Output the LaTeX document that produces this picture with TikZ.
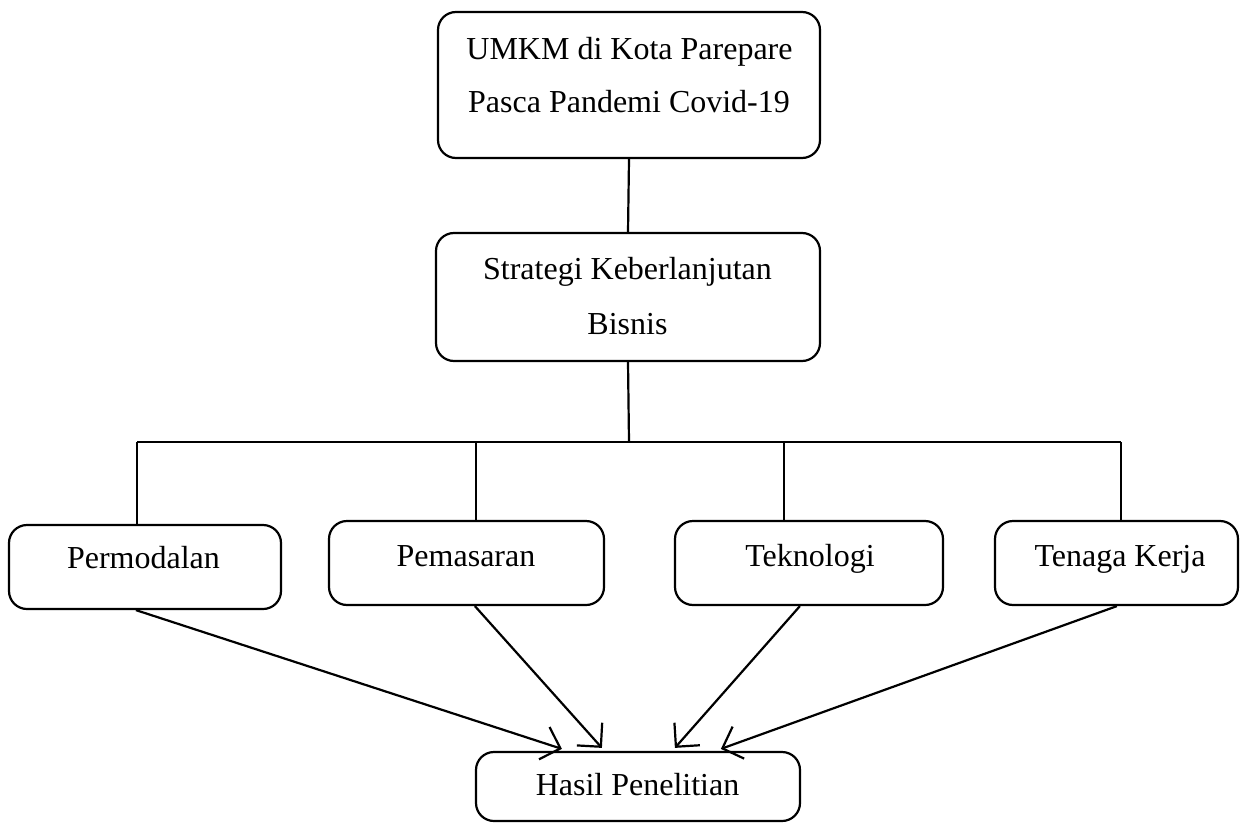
\documentclass[tikz,border=0pt]{standalone}
\usepackage{fontspec}
\setmainfont{Liberation Serif}
\usetikzlibrary{arrows.meta,calc}
\begin{document}
\begin{tikzpicture}[x=1pt,y=-1pt,
  box/.style={draw, line width=2.2pt, rounded corners=18pt, inner sep=0pt},
  lbl/.style={anchor=base, inner sep=0pt, font=\fontsize{32}{53}\selectfont},
  conn/.style={line width=2.2pt},
  arr/.style={line width=2.2pt, -{Straight Barb[length=17pt,width=34pt,line width=2.2pt]}}]
\useasboundingbox (0,0) rectangle (1244,824);
% boxes
\node[box, minimum width=382pt, minimum height=146pt] (umkm) at (629,85) {};
\node[box, minimum width=384pt, minimum height=128pt] (strat) at (628,297) {};
\node[box, minimum width=272pt, minimum height=84pt] (perm) at (145,567) {};
\node[box, minimum width=275pt, minimum height=84pt] (pem) at (466.5,563) {};
\node[box, minimum width=268pt, minimum height=84pt] (tek) at (809,563) {};
\node[box, minimum width=243pt, minimum height=84pt] (ten) at (1116.5,563) {};
\node[box, minimum width=324pt, minimum height=69pt] (hasil) at (638,786.5) {};
% texts
\node[lbl] (t1) at (629.5,60) {UMKM di Kota Parepare};
\node[lbl] (t2) at (629,113) {Pasca Pandemi Covid-19};
\node[lbl] (t3) at (627.5,279) {Strategi Keberlanjutan};
\node[lbl] (t4) at (627.5,334) {Bisnis};
\node[lbl] (t5) at (143.5,568) {Permodalan};
\node[lbl] (t6) at (466,566) {Pemasaran};
\node[lbl] (t7) at (810,566) {Teknologi};
\node[lbl] (t8) at (1120,566) {Tenaga Kerja};
\node[lbl] (t9) at (637.5,795) {Hasil Penelitian};
% bus coordinates
\coordinate (b1) at (137,442);
\coordinate (b2) at (476,442);
\coordinate (bc) at (629,442);
\coordinate (b3) at (784,442);
\coordinate (b4) at (1121,442);
% connectors
\draw[conn] (umkm.south) -- (strat.north);
\draw[conn] (strat.south) -- (bc);
\draw[conn] (b1) -- (b4);
\draw[conn] (b1) -- (b1 |- perm.north);
\draw[conn] (b2) -- (b2 |- pem.north);
\draw[conn] (b3) -- (b3 |- tek.north);
\draw[conn] (b4) -- (b4 |- ten.north);
% arrows
\coordinate (s1) at ($(perm.south west)+(128,0)$);
\coordinate (s2) at ($(pem.south west)+(147,0)$);
\coordinate (s3) at ($(tek.south west)+(126,0)$);
\coordinate (s4) at ($(ten.south west)+(123,0)$);
\coordinate (e1) at ($(hasil.north west)+(87,-2)$);
\coordinate (e2) at ($(hasil.north west)+(127,-3)$);
\coordinate (e3) at ($(hasil.north west)+(200,-3)$);
\coordinate (e4) at ($(hasil.north west)+(246,-2)$);
\draw[arr] (s1) -- (e1);
\draw[arr] (s2) -- (e2);
\draw[arr] (s3) -- (e3);
\draw[arr] (s4) -- (e4);
\end{tikzpicture}
\end{document}
